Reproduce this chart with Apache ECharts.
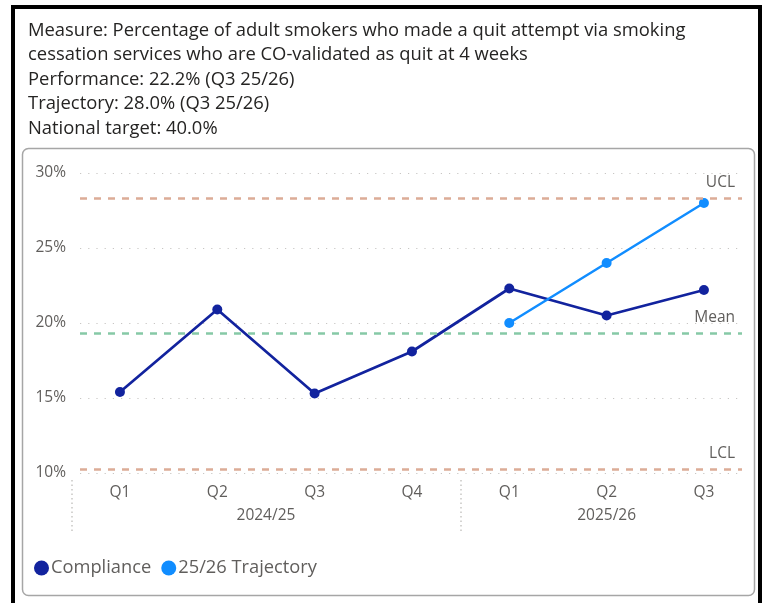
<!DOCTYPE html>
<html>
<head>
<meta charset="utf-8">
<style>
  html, body { margin: 0; padding: 0; background: #ffffff; }
  #chart { width: 767px; height: 603px; }
</style>
<script src="https://cdn.jsdelivr.net/npm/echarts@6/dist/echarts.min.js"></script>
</head>
<body>
<div id="chart"></div>
<script>
// ---- data ----
const headerLines = [
  'Measure: Percentage of adult smokers who made a quit attempt via smoking',
  'cessation services who are CO-validated as quit at 4 weeks',
  'Performance: 22.2% (Q3 25/26)',
  'Trajectory: 28.0% (Q3 25/26)',
  'National target: 40.0%'
];
const quarters = ['Q1', 'Q2', 'Q3', 'Q4', 'Q1', 'Q2', 'Q3'];
const years = ['2024/25', '2025/26'];
const quartersPerYear = [4, 3];
const compliance = [15.4, 20.9, 15.3, 18.1, 22.3, 20.5, 22.2];
const trajectory = [null, null, null, null, 20.0, 24.0, 28.0];
const ucl = 28.3;
const meanVal = 19.3;
const lcl = 10.25;
const yTicks = [10, 15, 20, 25, 30];

// derived year label positions (centre of each year's span) and separators
const yearCentres = [];
const yearEdges = [];
let start = 0;
quartersPerYear.forEach(n => {
  yearEdges.push(start - 0.5);
  yearCentres.push(start + (n - 1) / 2);
  start += n;
});

const chart = echarts.init(document.getElementById('chart'), null, { renderer: 'canvas' });

const labelColor = '#605e5c';
const font = 'Open Sans, Noto Sans, sans-serif';

const option = {
  animation: false,
  backgroundColor: '#ffffff',
  title: {
    text: headerLines.join('\n'),
    left: 28,
    top: 18.5,
    padding: 0,
    textStyle: {
      fontFamily: font,
      fontSize: 18.4,
      fontWeight: 'normal',
      lineHeight: 24.5,
      color: '#252423'
    }
  },
  graphic: [
    {
      type: 'rect',
      shape: { x: 13, y: 7, width: 747, height: 620 },
      style: { fill: 'none', stroke: '#000000', lineWidth: 4 },
      silent: true
    },
    {
      type: 'rect',
      shape: { x: 22.5, y: 148.5, width: 732, height: 447, r: 6 },
      style: { fill: 'none', stroke: '#a6a6a6', lineWidth: 1.5 },
      silent: true
    }
  ],
  legend: {
    data: ['Compliance', '25/26 Trajectory'],
    left: 29,
    top: 554,
    icon: 'circle',
    itemWidth: 15,
    itemHeight: 15,
    itemGap: 10,
    textStyle: { fontFamily: font, fontSize: 18.3, color: labelColor, padding: [0, 0, 0, -3] }
  },
  grid: [
    { left: 80, right: 25, top: 173, bottom: 130, containLabel: false },
    { left: 71.3, right: 14.4, top: 173, bottom: 130, containLabel: false }
  ],
  xAxis: [
    { type: 'value', gridIndex: 0, min: 0, max: 1, show: false },
    {
      type: 'category',
      gridIndex: 1,
      data: quarters,
      boundaryGap: true,
      axisLine: { show: false },
      axisTick: { show: false },
      axisLabel: { fontFamily: font, fontSize: 15.5, color: labelColor, margin: 12 }
    },
    {
      type: 'value',
      gridIndex: 1,
      position: 'bottom',
      offset: 7,
      min: -0.5,
      max: 6.5,
      interval: 0.5,
      splitLine: { show: false },
      axisLine: { show: false },
      axisTick: {
        show: true,
        customValues: yearEdges,
        length: 52,
        lineStyle: { color: '#c8c6c4', width: 1.5, type: [1.5, 3] }
      },
      axisLabel: {
        customValues: yearCentres,
        fontFamily: font,
        fontSize: 15.5,
        color: labelColor,
        margin: 28,
        formatter: function (v) {
          const i = yearCentres.indexOf(v);
          return i >= 0 ? years[i] : '';
        }
      }
    }
  ],
  yAxis: [
    {
      type: 'value',
      gridIndex: 0,
      min: yTicks[0],
      max: yTicks[yTicks.length - 1],
      interval: 5,
      axisLine: { show: false },
      axisTick: { show: false },
      axisLabel: { fontFamily: font, fontSize: 15.5, color: labelColor, margin: 14, formatter: '{value}%' },
      splitLine: { show: true, lineStyle: { color: '#c8c6c4', width: 1.2, type: [1.2, 7] } }
    },
    {
      type: 'value',
      gridIndex: 1,
      min: yTicks[0],
      max: yTicks[yTicks.length - 1],
      interval: 5,
      show: false,
      splitLine: { show: false }
    }
  ],
  series: [
    {
      name: 'refs',
      type: 'line',
      xAxisIndex: 0,
      yAxisIndex: 0,
      data: [],
      silent: true,
      markLine: {
        silent: true,
        symbol: 'none',
        animation: false,
        label: {
          show: true,
          position: 'insideEndTop',
          formatter: '{b}',
          fontFamily: font,
          fontSize: 15.5,
          color: labelColor,
          distance: [7, 8]
        },
        data: [
          { name: 'UCL', yAxis: ucl, lineStyle: { color: '#dcac97', width: 2.5, type: [7, 7] } },
          { name: 'Mean', yAxis: meanVal, lineStyle: { color: '#86c9a6', width: 2.5, type: [7, 7] } },
          { name: 'LCL', yAxis: lcl, lineStyle: { color: '#dcac97', width: 2.5, type: [7, 7] } }
        ]
      }
    },
    {
      name: 'Compliance',
      type: 'line',
      xAxisIndex: 1,
      yAxisIndex: 1,
      data: compliance,
      symbol: 'circle',
      symbolSize: 10,
      itemStyle: { color: '#12239e' },
      lineStyle: { color: '#12239e', width: 2.7 },
      z: 3
    },
    {
      name: '25/26 Trajectory',
      type: 'line',
      xAxisIndex: 1,
      yAxisIndex: 1,
      data: trajectory,
      symbol: 'circle',
      symbolSize: 10,
      itemStyle: { color: '#118dff' },
      lineStyle: { color: '#118dff', width: 2.5 },
      z: 4
    }
  ]
};

chart.setOption(option);
</script>
</body>
</html>
